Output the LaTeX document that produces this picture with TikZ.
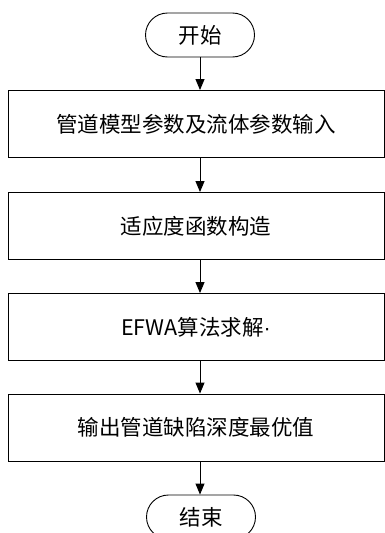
\documentclass[tikz,border=0pt]{standalone}
\usepackage{fontspec}
\newfontfamily\cjk{Noto Sans CJK SC}
\newfontfamily\latinsans{Liberation Sans}
\usetikzlibrary{arrows.meta}
\begin{document}
\begin{tikzpicture}[x=1pt,y=-1pt,
  procbox/.style={draw=black,line width=0.9pt,minimum width=376pt,minimum height=67pt,inner sep=0pt,font=\cjk\fontsize{21.5}{25}\selectfont},
  termbox/.style={draw=black,line width=0.9pt,rounded corners=22pt,minimum width=109pt,minimum height=44pt,inner sep=0pt,font=\cjk\fontsize{21.5}{25}\selectfont},
  flow/.style={draw=black,line width=0.9pt,-{Triangle[length=11pt,width=9pt]}}]
\useasboundingbox (0,0) rectangle (385,533);
\node[termbox] (start) at (200,35) {开始};
\node[procbox] (b1) at (196,124) {管道模型参数及流体参数输入};
\node[procbox] (b2) at (196,226) {适应度函数构造};
\node[procbox] (b3) at (196,327) {EFWA算法求解{\latinsans·}};
\node[procbox] (b4) at (196,427.5) {输出管道缺陷深度最优值};
\node[termbox] (end) at (201,517) {结束};
\draw[flow] (start.south) -- (start.south |- b1.north);
\draw[flow] (start.south |- b1.south) -- (start.south |- b2.north);
\draw[flow] (start.south |- b2.south) -- (start.south |- b3.north);
\draw[flow] (start.south |- b3.south) -- (start.south |- b4.north);
\draw[flow] (start.south |- b4.south) -- (start.south |- end.north);
\end{tikzpicture}
\end{document}
